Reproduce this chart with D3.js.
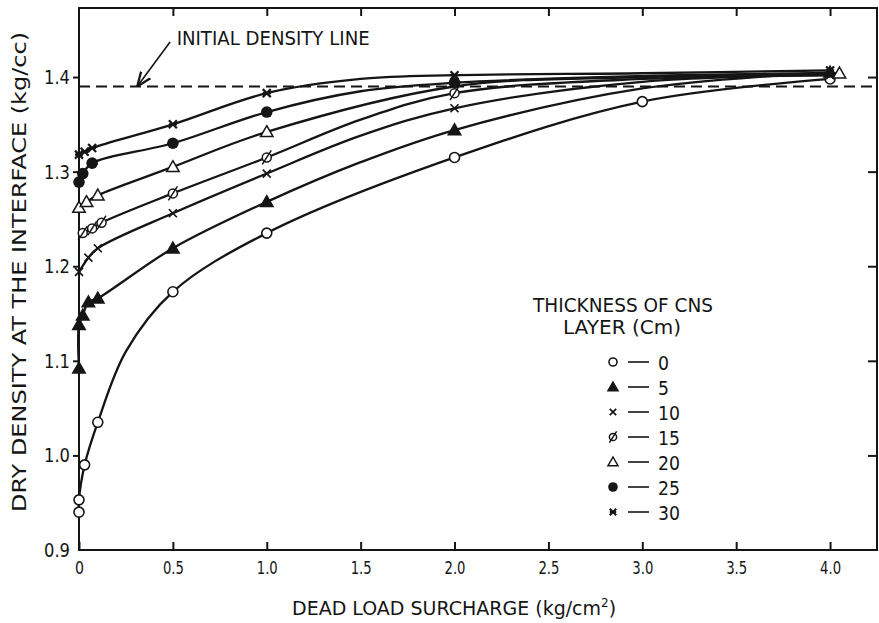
<!DOCTYPE html>
<html>
<head>
<meta charset="utf-8">
<script src="https://cdn.jsdelivr.net/npm/d3@7"></script>
<style>
  body { margin: 0; background: #fff; }
  text { font-family: "DejaVu Sans", sans-serif; fill: #151515; }
</style>
</head>
<body>
<div id="chart"></div>
<script>
// tick values
const xTicks = [0, 0.5, 1.0, 1.5, 2.0, 2.5, 3.0, 3.5, 4.0];
const yTicks = [0.9, 1.0, 1.1, 1.2, 1.3, 1.4];
const initialDensity = 1.39;

// thickness of CNS layer (cm) for each curve
const layers = [0, 5, 10, 15, 20, 25, 30];

// marked points
const load0  = [0, 0, 0.03, 0.1, 0.5, 1.0, 2.0, 3.0, 4.0];
const dens0  = [0.94, 0.953, 0.99, 1.035, 1.173, 1.235, 1.315, 1.374, 1.398];
const load5  = [0, 0, 0.02, 0.05, 0.1, 0.5, 1.0, 2.0, 4.0];
const dens5  = [1.092, 1.138, 1.148, 1.162, 1.166, 1.219, 1.268, 1.344, 1.405];
const load10 = [0, 0.05, 0.1, 0.5, 1.0, 2.0, 4.0];
const dens10 = [1.194, 1.209, 1.219, 1.256, 1.298, 1.367, 1.402];
const load15 = [0.02, 0.07, 0.12, 0.5, 1.0, 2.0];
const dens15 = [1.235, 1.240, 1.246, 1.277, 1.315, 1.383];
const load20 = [0, 0.04, 0.1, 0.5, 1.0, 4.05];
const dens20 = [1.262, 1.268, 1.275, 1.305, 1.342, 1.404];
const load25 = [0, 0.02, 0.07, 0.5, 1.0, 2.0];
const dens25 = [1.289, 1.298, 1.309, 1.330, 1.363, 1.394];
const load30 = [0, 0.03, 0.07, 0.5, 1.0, 2.0, 4.0];
const dens30 = [1.318, 1.321, 1.325, 1.350, 1.383, 1.402, 1.407];

// unmarked points on the drawn curves
const curveLoad0 = [0.25],  curveDens0 = [1.11];
const curveLoad5 = [1.5, 3.0], curveDens5 = [1.31, 1.388];
const curveLoad10 = [1.5, 3.0], curveDens10 = [1.338, 1.395];
const curveLoad15 = [1.5, 3.0, 4.0], curveDens15 = [1.355, 1.398, 1.402];
const curveLoad20 = [2.0, 3.0], curveDens20 = [1.39, 1.40];
const curveLoad25 = [1.5, 3.0, 4.0], curveDens25 = [1.385, 1.401, 1.404];
const curveLoad30 = [1.5, 3.0], curveDens30 = [1.398, 1.404];

const marks = ['circle', 'triFill', 'cross', 'slash', 'tri', 'dot', 'star'];

const zip = (a, b) => a.map((v, i) => [v, b[i]]);
const series = [
  { pts: zip(load0, dens0),   knots: zip(curveLoad0, curveDens0) },
  { pts: zip(load5, dens5),   knots: zip(curveLoad5, curveDens5) },
  { pts: zip(load10, dens10), knots: zip(curveLoad10, curveDens10) },
  { pts: zip(load15, dens15), knots: zip(curveLoad15, curveDens15) },
  { pts: zip(load20, dens20), knots: zip(curveLoad20, curveDens20) },
  { pts: zip(load25, dens25), knots: zip(curveLoad25, curveDens25) },
  { pts: zip(load30, dens30), knots: zip(curveLoad30, curveDens30) }
].map((s, i) => Object.assign(s, { layer: layers[i], mark: marks[i] }));

const w = 879, h = 623;
const ink = '#151515';

const x = d3.scaleLinear().domain([0, 4.25]).range([79, 877]);
const y = d3.scaleLinear().domain([0.9, 1.473]).range([550, 8]);

const svg = d3.select('#chart').append('svg')
  .attr('width', w)
  .attr('height', h);

// frame
svg.append('rect')
  .attr('x', x(0)).attr('y', y(1.473))
  .attr('width', x(4.25) - x(0)).attr('height', y(0.9) - y(1.473))
  .attr('fill', 'none').attr('stroke', ink).attr('stroke-width', 2);

// axes
const xAxis = svg.append('g')
  .attr('transform', 'translate(0,' + y(0.9) + ')')
  .call(d3.axisBottom(x).tickValues(xTicks).tickSize(-8).tickPadding(11)
    .tickFormat((d) => d === 0 ? '0' : d3.format('.1f')(d)));
svg.append('g')
  .attr('transform', 'translate(0,' + y(1.473) + ')')
  .call(d3.axisTop(x).tickValues(xTicks.slice(1)).tickSize(-8).tickFormat(''));
const yAxis = svg.append('g')
  .attr('transform', 'translate(' + x(0) + ',0)')
  .call(d3.axisLeft(y).tickValues(yTicks).tickSize(6).tickPadding(3)
    .tickFormat(d3.format('.1f')));
svg.append('g')
  .attr('transform', 'translate(' + x(4.25) + ',0)')
  .call(d3.axisRight(y).tickValues(yTicks.slice(1)).tickSize(-9).tickFormat(''));

svg.selectAll('.domain').remove();
svg.selectAll('.tick line').attr('stroke', ink).attr('stroke-width', 2);
svg.selectAll('.tick text').attr('fill', ink)
  .attr('font-family', '"DejaVu Sans", sans-serif')
  .attr('lengthAdjust', 'spacingAndGlyphs');
xAxis.selectAll('.tick text').attr('font-size', 18)
  .attr('textLength', (d) => d === 0 ? 9 : 21);
yAxis.selectAll('.tick text').attr('font-size', 20)
  .attr('textLength', 26);
yAxis.selectAll('.tick line').filter((d) => d === 0.9).remove();

// axis titles
const xTitle = svg.append('text')
  .attr('x', 292).attr('y', 615)
  .attr('font-size', 19);
xTitle.append('tspan').text('DEAD LOAD SURCHARGE (kg/cm');
xTitle.append('tspan').attr('dy', -8).attr('font-size', 12).text('2');
xTitle.append('tspan').attr('dy', 8).text(')');

svg.append('text')
  .attr('transform', 'translate(26,272) rotate(-90)')
  .attr('text-anchor', 'middle')
  .attr('font-size', 20)
  .attr('textLength', 480).attr('lengthAdjust', 'spacingAndGlyphs')
  .text('DRY DENSITY AT THE INTERFACE (kg/cc)');

// initial density line
svg.append('line')
  .attr('x1', x(0)).attr('x2', x(4.25))
  .attr('y1', y(initialDensity)).attr('y2', y(initialDensity))
  .attr('stroke', ink).attr('stroke-width', 2)
  .attr('stroke-dasharray', '11,6');

svg.append('defs').append('marker')
  .attr('id', 'head')
  .attr('viewBox', '0 0 10 10')
  .attr('refX', 10).attr('refY', 5)
  .attr('markerWidth', 9).attr('markerHeight', 9)
  .attr('orient', 'auto')
  .append('path').attr('d', 'M0,1L10,5L0,9').attr('fill', 'none')
  .attr('stroke', ink).attr('stroke-width', 1.6);

svg.append('line')
  .attr('x1', x(0.485)).attr('y1', y(1.437))
  .attr('x2', x(0.31)).attr('y2', y(initialDensity))
  .attr('stroke', ink).attr('stroke-width', 1.6)
  .attr('marker-end', 'url(#head)');

svg.append('text')
  .attr('x', x(0.52)).attr('y', y(1.434))
  .attr('font-size', 20)
  .attr('textLength', 193).attr('lengthAdjust', 'spacingAndGlyphs')
  .text('INITIAL DENSITY LINE');

// curves
const line = d3.line()
  .x((d) => x(d[0]))
  .y((d) => y(d[1]))
  .curve(d3.curveCatmullRom.alpha(0.5));

series.forEach(function (s) {
  const all = s.pts.concat(s.knots).sort((a, b) => a[0] - b[0] || a[1] - b[1]);
  svg.append('path')
    .datum(all)
    .attr('d', line)
    .attr('fill', 'none')
    .attr('stroke', ink)
    .attr('stroke-width', 2.3);
});

// markers
function drawMark(g, kind, cx, cy, r) {
  if (kind === 'circle') {
    g.append('circle').attr('cx', cx).attr('cy', cy).attr('r', r)
      .attr('fill', '#fff').attr('stroke', ink).attr('stroke-width', 1.6);
  } else if (kind === 'dot') {
    g.append('circle').attr('cx', cx).attr('cy', cy).attr('r', r + 0.8)
      .attr('fill', ink);
  } else if (kind === 'triFill' || kind === 'tri') {
    const t = r * 1.25;
    g.append('path')
      .attr('d', 'M' + cx + ',' + (cy - t) + 'L' + (cx + t) + ',' + (cy + t * 0.75) +
        'L' + (cx - t) + ',' + (cy + t * 0.75) + 'Z')
      .attr('fill', kind === 'tri' ? '#fff' : ink)
      .attr('stroke', ink).attr('stroke-width', 1.5);
  } else if (kind === 'cross') {
    const t = r * 0.8;
    g.append('path')
      .attr('d', 'M' + (cx - t) + ',' + (cy - t) + 'L' + (cx + t) + ',' + (cy + t) +
        'M' + (cx + t) + ',' + (cy - t) + 'L' + (cx - t) + ',' + (cy + t))
      .attr('stroke', ink).attr('stroke-width', 1.7);
  } else if (kind === 'slash') {
    g.append('circle').attr('cx', cx).attr('cy', cy).attr('r', r * 0.9)
      .attr('fill', '#fff').attr('stroke', ink).attr('stroke-width', 1.5);
    g.append('path')
      .attr('d', 'M' + (cx - r * 0.9) + ',' + (cy + r * 1.4) + 'L' + (cx + r * 0.9) + ',' + (cy - r * 1.4))
      .attr('stroke', ink).attr('stroke-width', 1.5);
  } else if (kind === 'star') {
    const t = r * 0.8;
    g.append('path')
      .attr('d', 'M' + (cx - t) + ',' + (cy - t) + 'L' + (cx + t) + ',' + (cy + t) +
        'M' + (cx + t) + ',' + (cy - t) + 'L' + (cx - t) + ',' + (cy + t) +
        'M' + (cx - t) + ',' + cy + 'L' + (cx + t) + ',' + cy)
      .attr('stroke', ink).attr('stroke-width', 2.2);
  }
}

series.forEach(function (s) {
  const g = svg.append('g');
  s.pts.forEach((d) => drawMark(g, s.mark, x(d[0]), y(d[1]), 5));
});

// legend
const leg = svg.append('g');
leg.append('text').attr('x', 533).attr('y', 312)
  .attr('font-size', 20).attr('textLength', 180).attr('lengthAdjust', 'spacingAndGlyphs')
  .text('THICKNESS OF CNS');
leg.append('text').attr('x', 563).attr('y', 334)
  .attr('font-size', 20).attr('textLength', 118).attr('lengthAdjust', 'spacingAndGlyphs')
  .text('LAYER (Cm)');

series.forEach(function (s, i) {
  const cy = 362 + i * 25;
  drawMark(leg, s.mark, 613, cy, 4);
  leg.append('line').attr('x1', 628).attr('x2', 649).attr('y1', cy).attr('y2', cy)
    .attr('stroke', ink).attr('stroke-width', 1.6);
  leg.append('text').attr('x', 658).attr('y', cy + 8)
    .attr('font-size', 20)
    .attr('textLength', s.layer < 10 ? 11 : 22).attr('lengthAdjust', 'spacingAndGlyphs')
    .text(s.layer);
});
</script>
</body>
</html>
